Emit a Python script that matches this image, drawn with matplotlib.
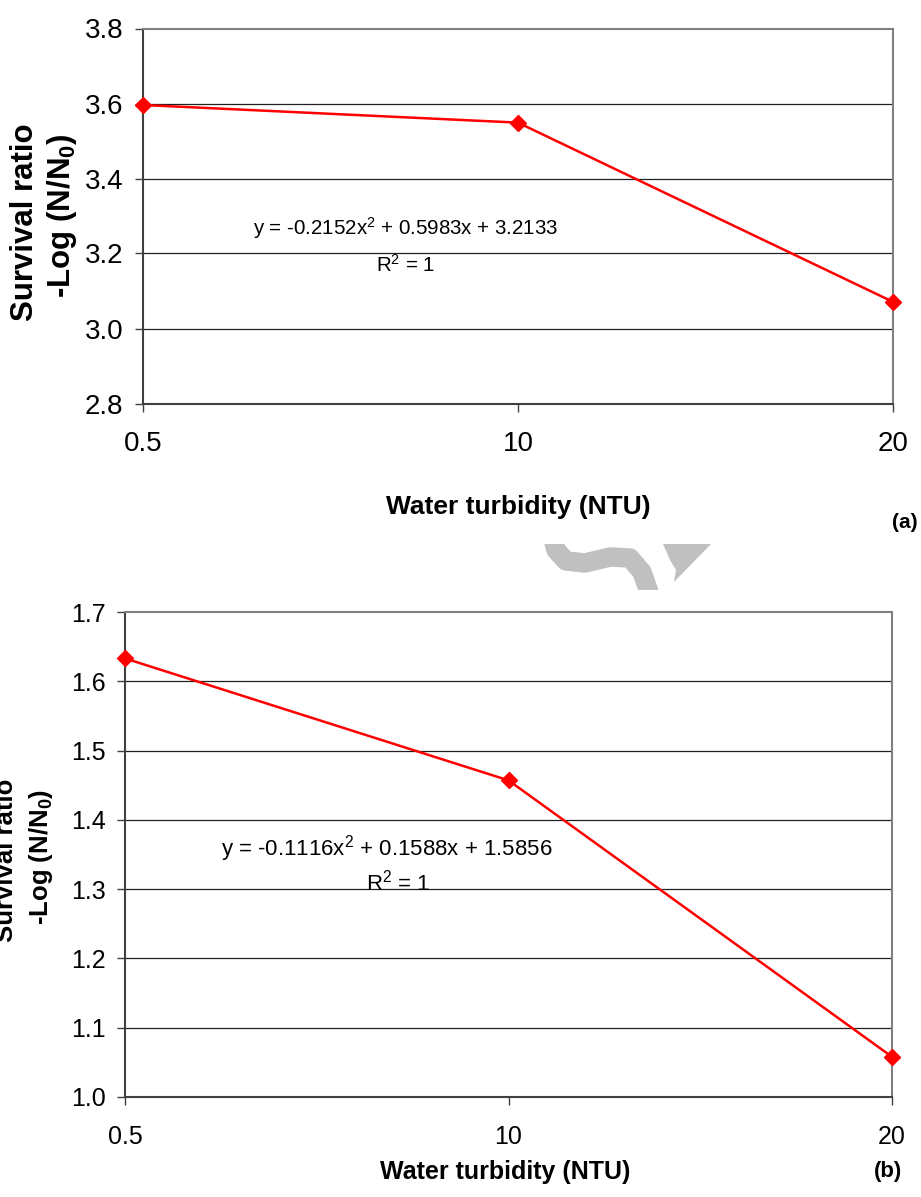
import matplotlib
matplotlib.use("Agg")
import matplotlib.pyplot as plt
import numpy as np

plt.rcParams['font.family'] = ['Liberation Sans', 'DejaVu Sans']
plt.rcParams['mathtext.fontset'] = 'custom'
plt.rcParams['mathtext.rm'] = 'Liberation Sans'
plt.rcParams['mathtext.bf'] = 'Liberation Sans:bold'
plt.rcParams['mathtext.default'] = 'regular'

# data
turbidity = ['0.5', '10', '20']
survival_a = [3.596, 3.549, 3.071]
survival_b = [1.633, 1.457, 1.058]
eq_a = 'y = -0.2152x$^{2}$ + 0.5983x + 3.2133'
eq_b = 'y = -0.1116x$^{2}$ + 0.1588x + 1.5856'
ticks_a = [2.8, 3.0, 3.2, 3.4, 3.6, 3.8]
ticks_b = [1.0, 1.1, 1.2, 1.3, 1.4, 1.5, 1.6, 1.7]

W, H = 921, 1197
fig = plt.figure(figsize=(W / 100, H / 100), dpi=100)


def px(x0, y0, x1, y1):
    # pixel box (top-left origin) -> figure fraction rect
    return [x0 / W, 1 - y1 / H, (x1 - x0) / W, (y1 - y0) / H]


def panel(rect, vals, yticks, fmt, tsize):
    ax = fig.add_axes(rect)
    idx = np.arange(len(vals))
    ax.plot(idx, vals, color='#ff0000', lw=1.8, marker='D', ms=8,
            mec='#ff0000', mfc='#ff0000', zorder=5, clip_on=False)
    ax.set_xlim(0, len(vals) - 1)
    ax.set_ylim(yticks[0], yticks[-1])
    ax.set_yticks(yticks)
    ax.set_yticklabels([fmt % t for t in yticks], fontsize=tsize)
    ax.set_xticks(idx)
    ax.set_xticklabels(turbidity, fontsize=tsize)
    for t in yticks[1:-1]:
        ax.axhline(t, color='#202020', lw=0.9, zorder=1)
    ax.tick_params(axis='y', direction='out', length=6, width=1, pad=8, colors='#404040', labelcolor='black')
    ax.tick_params(axis='x', direction='out', length=6, width=1, pad=14, colors='#404040', labelcolor='black')
    for s in ['left', 'bottom']:
        ax.spines[s].set_color('#404040')
        ax.spines[s].set_linewidth(1.5)
    for s in ['top', 'right']:
        ax.spines[s].set_color('#808080')
        ax.spines[s].set_linewidth(1.5)
    return ax


# (a)
ax1 = panel(px(143, 28.5, 893, 403.5), survival_a, ticks_a, '%.1f', 20)
ax1.text(0.70, 3.268, eq_a, fontsize=14.8, ha='center', va='center')
ax1.text(0.70, 3.169, 'R$^{2}$ = 1', fontsize=14.8, ha='center', va='center')
fig.text(25 / W, 1 - 222 / H, 'Survival ratio', rotation=90, fontsize=22.5,
         fontweight='bold', ha='center', va='center')
fig.text(62 / W, 1 - 216 / H, r'-Log (N/N$\mathbf{_0}$)', rotation=90, fontsize=22.5,
         fontweight='bold', ha='center', va='center')
fig.text(518 / W, 1 - 507 / H, 'Water turbidity (NTU)', fontsize=19,
         fontweight='bold', ha='center', va='center')
fig.text(905 / W, 1 - 522 / H, '(a)', fontsize=15, fontweight='bold',
         ha='center', va='center')

# (b)
ax2 = panel(px(125, 612, 892, 1097), survival_b, ticks_b, '%.1f', 18)
ax2.text(0.683, 1.359, eq_b, fontsize=16, ha='center', va='center')
ax2.text(0.712, 1.310, 'R$^{2}$ = 1', fontsize=16, ha='center', va='center')
fig.text(6 / W, 1 - 860 / H, 'Survival ratio', rotation=90, fontsize=18.5,
         fontweight='bold', ha='center', va='center')
fig.text(41 / W, 1 - 857 / H, r'-Log (N/N$\mathbf{_0}$)', rotation=90, fontsize=18.5,
         fontweight='bold', ha='center', va='center')
fig.text(505 / W, 1 - 1172 / H, 'Water turbidity (NTU)', fontsize=18,
         fontweight='bold', ha='center', va='center')
fig.text(888 / W, 1 - 1172 / H, '(b)', fontsize=16, fontweight='bold',
         ha='center', va='center')

# grey watermark fragment between the panels
wm = fig.add_axes(px(540, 544, 720, 590))
wm.set_xlim(540, 720)
wm.set_ylim(590, 544)
wm.axis('off')
wm.fill([663, 711, 674, 676, 670], [544, 544, 582, 570, 560], color='#c0c0c0', lw=0)
wm.plot([552, 556, 566, 585, 610, 630, 642, 650], [535, 550, 561, 563, 557, 558, 572, 595],
        color='#c0c0c0', lw=14, solid_capstyle='butt', solid_joinstyle='round')

fig.savefig('out.png', dpi=100)
